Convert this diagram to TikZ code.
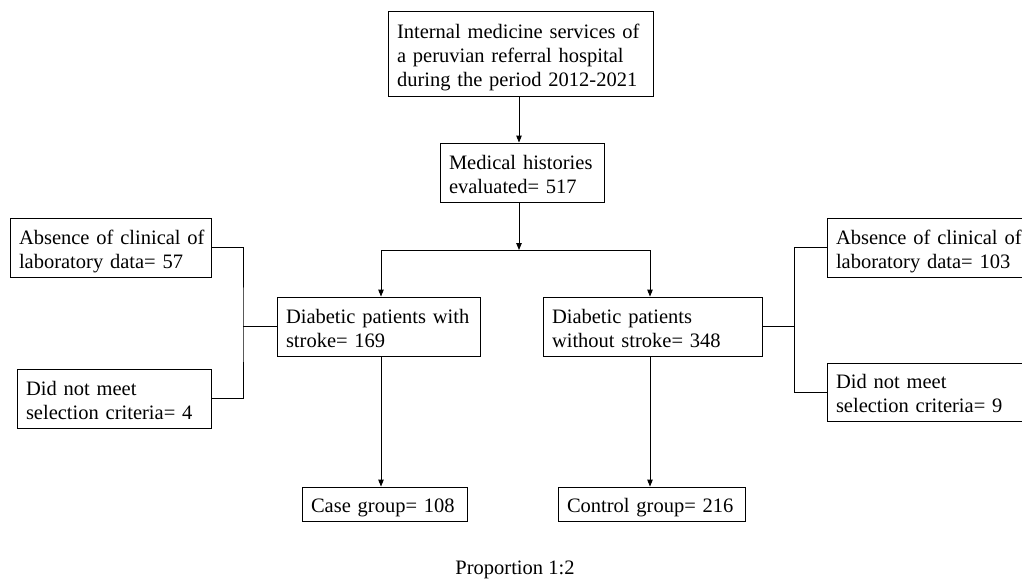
\documentclass[tikz,border=0pt]{standalone}
\usepackage{fontspec}
\setmainfont{Liberation Serif}
\usetikzlibrary{arrows.meta}
\begin{document}
\begin{tikzpicture}[x=1pt,y=-1pt,
  box/.style={draw, line width=0.9pt, inner xsep=9pt, inner ysep=0pt, align=left,
    font=\fontsize{20.5}{24}\selectfont, text height=25.5pt},
  one/.style={box, text depth=8pt},
  two/.style={box, text depth=32pt},
  three/.style={box, text depth=56pt},
  line/.style={draw, line width=0.9pt},
  arr/.style={line, -{Triangle[length=7pt,width=5.5pt]}}]
\useasboundingbox (0,0) rectangle (1022,579);
\node[three, minimum width=265, minimum height=85, text width=247] (top) at (520.5,53.5)
  {Internal medicine services of\\a peruvian referral hospital\\during the period 2012-2021};
\node[two, minimum width=164, minimum height=59, text width=146] (med) at (522,172.5)
  {Medical histories\\evaluated= 517};
\node[two, minimum width=203, minimum height=59, text width=185] (dpl) at (378.5,326.5)
  {Diabetic patients with\\stroke= 169};
\node[two, minimum width=219, minimum height=59, text width=201] (dpr) at (652.5,326.5)
  {Diabetic patients\\without stroke= 348};
\node[two, minimum width=201, minimum height=59, text width=183] (labs) at (110.5,247.5)
  {\mbox{Absence of clinical of}\\laboratory data= 57};
\node[two, minimum width=194, minimum height=59, text width=176] (ldid) at (114,398.5)
  {Did not meet\\\mbox{selection criteria= 4}};
\node[two, minimum width=203, minimum height=59, text width=185] (rabs) at (928.5,247.5)
  {\mbox{Absence of clinical of}\\laboratory data= 103};
\node[two, minimum width=195, minimum height=58, text width=177] (rdid) at (924.5,392)
  {Did not meet\\\mbox{selection criteria= 9}};
\node[one, minimum width=165, minimum height=34, text width=147] (case) at (384.5,504)
  {Case group= 108};
\node[one, minimum width=187, minimum height=34, text width=169] (ctrl) at (651.5,504)
  {Control group= 216};
\node[font=\fontsize{20.5}{24}\selectfont, inner sep=0pt, anchor=base] (prop) at (515,574) {Proportion 1:2};
\coordinate (split) at (519,250);
\coordinate (sl) at (381,250);
\coordinate (sr) at (650,250);
\coordinate (lb) at (243,326.5);
\coordinate (rb) at (794,326.5);
\draw[arr] (split |- top.south) -- (split |- med.north);
\draw[arr] (split |- med.south) -- (split);
\draw[line] (sl) -- (sr);
\draw[arr] (sl) -- (sl |- dpl.north);
\draw[arr] (sr) -- (sr |- dpr.north);
\draw[arr] (sl |- dpl.south) -- (sl |- case.north);
\draw[arr] (sr |- dpr.south) -- (sr |- ctrl.north);
\draw[line] (dpl.west) -- (lb);
\draw[line] (labs.east) -| (lb) |- (ldid.east);
\draw[line] (dpr.east) -- (rb);
\draw[line] (rabs.west) -| (rb) |- (rdid.west);
\end{tikzpicture}
\end{document}
